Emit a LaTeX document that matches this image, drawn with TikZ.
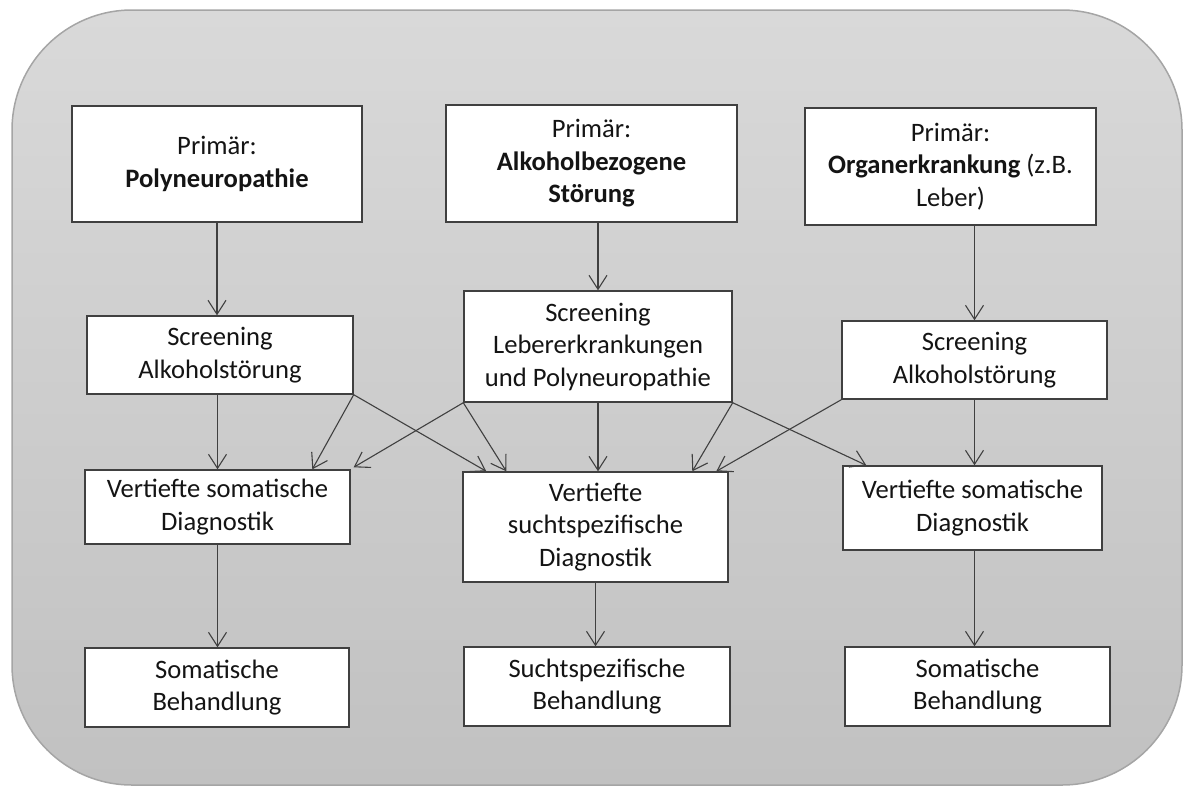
\documentclass[tikz,border=0pt]{standalone}
\usepackage{fontspec}
\setmainfont{Carlito}
\usetikzlibrary{arrows.meta,calc}
\definecolor{bgtop}{RGB}{217,217,217}
\definecolor{bgbot}{RGB}{193,193,193}
\definecolor{bgline}{RGB}{165,165,165}
\definecolor{boxline}{RGB}{64,64,64}
\definecolor{txt}{RGB}{20,20,20}
\tikzset{
  box/.style={draw=boxline, line width=0.7pt, fill=white, inner sep=0pt, align=center,
    text=txt, font=\fontsize{13.3}{16.25}\selectfont},
  arr/.style={draw=boxline, line width=0.55pt, -{Straight Barb[length=7pt,width=9pt,line width=0.55pt]}}
}
\begin{document}
\begin{tikzpicture}[x=0.5pt,y=-0.5pt]
\useasboundingbox (0,0) rectangle (1184,788);
\path[draw=bgline, line width=0.75pt, top color=bgtop, bottom color=bgbot, rounded corners=60pt]
  (12,10) rectangle (1182,785);
% row 1
\node[box, minimum width=145pt, minimum height=58pt] (A) at (217,164) {Primär:\\\textbf{Polyneuropathie}};
\node[box, minimum width=145.5pt, minimum height=58.5pt] (B) at (591.5,163.5) {Primär:\\\textbf{Alkoholbezogene}\\\textbf{Störung}};
\node[box, minimum width=145.5pt, minimum height=58.5pt] (C) at (950.5,166.5) {Primär:\\\textbf{Organerkrankung} (z.B.\\Leber)};
% row 2
\node[box, minimum width=133pt, minimum height=39pt] (S1) at (220,355) {Screening\\Alkoholstörung};
\node[box, minimum width=134pt, minimum height=55.5pt] (S2) at (598,346.5) {Screening\\Lebererkrankungen\\und Polyneuropathie};
\node[box, minimum width=132.5pt, minimum height=39pt] (S3) at (974.5,360) {Screening\\Alkoholstörung};
% row 3
\node[box, minimum width=132.5pt, minimum height=37pt] (V1) at (217.5,507) {Vertiefte somatische\\Diagnostik};
\node[box, minimum width=132.5pt, minimum height=55pt] (V2) at (595.5,527) {Vertiefte\\suchtspezifische\\Diagnostik};
\node[box, minimum width=129.5pt, minimum height=42pt] (V3) at (972.5,508) {Vertiefte somatische\\Diagnostik};
% row 4
\node[box, minimum width=132pt, minimum height=39.5pt] (B1) at (217,687.5) {Somatische\\Behandlung};
\node[box, minimum width=133pt, minimum height=39.5pt] (B2) at (597,686.5) {Suchtspezifische\\Behandlung};
\node[box, minimum width=132.5pt, minimum height=39.5pt] (B3) at (977.5,686.5) {Somatische\\Behandlung};
% connectors
\draw[arr] (A.south) -- (A.south |- S1.north);
\draw[arr] (B.south -| S2.north) -- (S2.north);
\draw[arr] (C.south -| S3.north) -- (S3.north);
\draw[arr] (S1.south -| V1.north) -- (V1.north);
\draw[arr] (S1.south east) -- ($(V1.north west)+(228,0)$);
\draw[arr] (S1.south east) -- ($(V2.north west)+(24,0)$);
\draw[arr] (S2.south west) -- ($(V1.north east)+(3,-2)$);
\draw[arr] (S2.south west) -- ($(V2.north west)+(44,0)$);
\draw[arr] (S2.south) -- (S2.south |- V2.north);
\draw[arr] (S2.south east) -- ($(V2.north west)+(230,0)$);
\draw[arr] (S2.south east) -- ($(V3.north west)+(24,0)$);
\draw[arr] (S3.south west) -- ($(V2.north west)+(254,0)$);
\draw[arr] (S3.south) -- (S3.south |- V3.north);
\draw[arr] (V1.south) -- (V1.south |- B1.north);
\draw[arr] (V2.south) -- (V2.south |- B2.north);
\draw[arr] (V3.south -| S3.south) -- (B3.north -| S3.south);
\end{tikzpicture}
\end{document}
